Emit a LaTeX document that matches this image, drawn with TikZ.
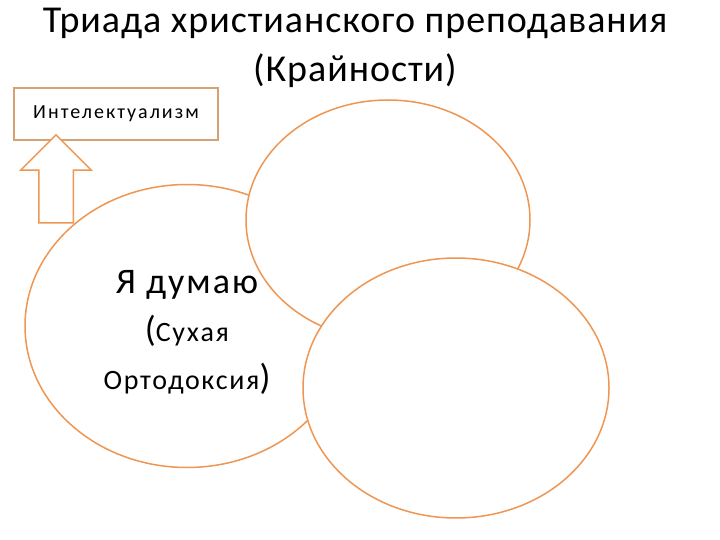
\documentclass[tikz,border=0pt]{standalone}
\usepackage{fontspec}
\setmainfont{Carlito}
\usetikzlibrary{shapes,positioning}
\definecolor{ringorange}{RGB}{238,150,82}
\definecolor{boxtan}{RGB}{214,162,116}

\begin{document}
\begin{tikzpicture}[x=1pt,y=-1pt,%
	   heading/.style={align=center,inner sep=0pt,font=\addfontfeature{LetterSpace=2.5}\fontsize{38}{49}\selectfont},
	   bubble/.style={draw=ringorange,line width=1.5pt,fill=white,shape=ellipse,inner sep=0pt},
	   keyword/.style={draw=boxtan,line width=1.5pt,fill=white,rectangle,minimum width=204pt,minimum height=52pt,
		   font=\addfontfeature{LetterSpace=10}\fontsize{20}{24}\selectfont},
	   inside/.style={align=center,inner sep=0pt,font=\addfontfeature{LetterSpace=6}\fontsize{28}{48}\selectfont},
	   uparrow/.style={draw=ringorange,line width=1.5pt,fill=white,single arrow,rotate=90,
		   single arrow head extend=18pt,inner xsep=0pt,inner ysep=16.5pt,text height=0pt,text depth=0pt,
		   minimum height=88pt}]
	\useasboundingbox (0,0) rectangle (720,540);

	\node[heading,anchor=base] (title) at (355,82) {Триада христианского преподавания\\(Крайности)};

	% the three rings, later ones lie on top
	\node[bubble,minimum width=324pt,minimum height=283pt] (think) at (187,326) {};
	\node[bubble,minimum width=284pt,minimum height=240pt] (feel) at (388,220) {};
	\node[bubble,minimum width=306pt,minimum height=260pt] (act) at (456,388) {};

	\node[inside] (think-text) at (187,332) {{\fontsize{36}{48}\selectfont Я думаю}\\
		{\fontsize{36}{48}\selectfont(}Сухая\\
		Ортодоксия{\fontsize{36}{48}\selectfont)}};

	\node[keyword] (intel) at (116,114) {Интелектуализм};
	\node[uparrow] (up) at (56,187.5) {};
\end{tikzpicture}
\end{document}
